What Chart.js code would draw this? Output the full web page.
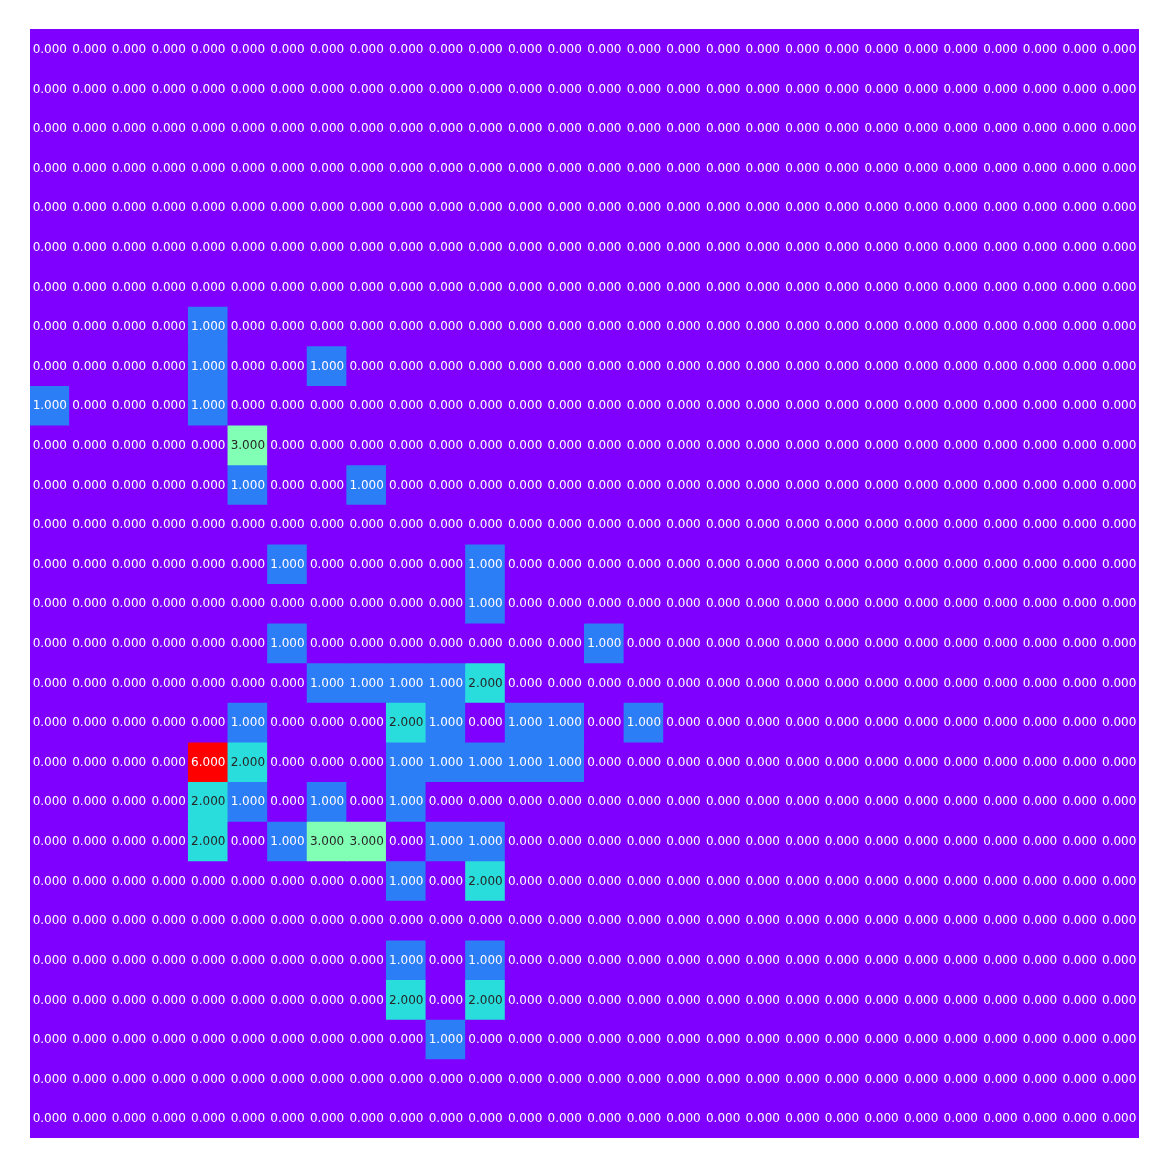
<!DOCTYPE html>
<html>
<head>
<meta charset="utf-8">
<script src="https://cdn.jsdelivr.net/npm/chart.js@4.4.1/dist/chart.umd.min.js"></script>
<style>
  html, body { margin: 0; padding: 0; background: #ffffff; }
  #wrap { width: 1168px; height: 1168px; }
</style>
</head>
<body>
<div id="wrap"><canvas id="c" width="1168" height="1168"></canvas></div>
<script>
// Column and row categories (28 x 28 grid)
const columnLabels = Array.from({length: 28}, (_, i) => String(i));
const rowLabels = Array.from({length: 28}, (_, i) => String(i));

// Cell values, one row per line (top row first)
const cellValues = [
  [0,0,0,0,0,0,0,0,0,0,0,0,0,0,0,0,0,0,0,0,0,0,0,0,0,0,0,0],
  [0,0,0,0,0,0,0,0,0,0,0,0,0,0,0,0,0,0,0,0,0,0,0,0,0,0,0,0],
  [0,0,0,0,0,0,0,0,0,0,0,0,0,0,0,0,0,0,0,0,0,0,0,0,0,0,0,0],
  [0,0,0,0,0,0,0,0,0,0,0,0,0,0,0,0,0,0,0,0,0,0,0,0,0,0,0,0],
  [0,0,0,0,0,0,0,0,0,0,0,0,0,0,0,0,0,0,0,0,0,0,0,0,0,0,0,0],
  [0,0,0,0,0,0,0,0,0,0,0,0,0,0,0,0,0,0,0,0,0,0,0,0,0,0,0,0],
  [0,0,0,0,0,0,0,0,0,0,0,0,0,0,0,0,0,0,0,0,0,0,0,0,0,0,0,0],
  [0,0,0,0,1,0,0,0,0,0,0,0,0,0,0,0,0,0,0,0,0,0,0,0,0,0,0,0],
  [0,0,0,0,1,0,0,1,0,0,0,0,0,0,0,0,0,0,0,0,0,0,0,0,0,0,0,0],
  [1,0,0,0,1,0,0,0,0,0,0,0,0,0,0,0,0,0,0,0,0,0,0,0,0,0,0,0],
  [0,0,0,0,0,3,0,0,0,0,0,0,0,0,0,0,0,0,0,0,0,0,0,0,0,0,0,0],
  [0,0,0,0,0,1,0,0,1,0,0,0,0,0,0,0,0,0,0,0,0,0,0,0,0,0,0,0],
  [0,0,0,0,0,0,0,0,0,0,0,0,0,0,0,0,0,0,0,0,0,0,0,0,0,0,0,0],
  [0,0,0,0,0,0,1,0,0,0,0,1,0,0,0,0,0,0,0,0,0,0,0,0,0,0,0,0],
  [0,0,0,0,0,0,0,0,0,0,0,1,0,0,0,0,0,0,0,0,0,0,0,0,0,0,0,0],
  [0,0,0,0,0,0,1,0,0,0,0,0,0,0,1,0,0,0,0,0,0,0,0,0,0,0,0,0],
  [0,0,0,0,0,0,0,1,1,1,1,2,0,0,0,0,0,0,0,0,0,0,0,0,0,0,0,0],
  [0,0,0,0,0,1,0,0,0,2,1,0,1,1,0,1,0,0,0,0,0,0,0,0,0,0,0,0],
  [0,0,0,0,6,2,0,0,0,1,1,1,1,1,0,0,0,0,0,0,0,0,0,0,0,0,0,0],
  [0,0,0,0,2,1,0,1,0,1,0,0,0,0,0,0,0,0,0,0,0,0,0,0,0,0,0,0],
  [0,0,0,0,2,0,1,3,3,0,1,1,0,0,0,0,0,0,0,0,0,0,0,0,0,0,0,0],
  [0,0,0,0,0,0,0,0,0,1,0,2,0,0,0,0,0,0,0,0,0,0,0,0,0,0,0,0],
  [0,0,0,0,0,0,0,0,0,0,0,0,0,0,0,0,0,0,0,0,0,0,0,0,0,0,0,0],
  [0,0,0,0,0,0,0,0,0,1,0,1,0,0,0,0,0,0,0,0,0,0,0,0,0,0,0,0],
  [0,0,0,0,0,0,0,0,0,2,0,2,0,0,0,0,0,0,0,0,0,0,0,0,0,0,0,0],
  [0,0,0,0,0,0,0,0,0,0,1,0,0,0,0,0,0,0,0,0,0,0,0,0,0,0,0,0],
  [0,0,0,0,0,0,0,0,0,0,0,0,0,0,0,0,0,0,0,0,0,0,0,0,0,0,0,0],
  [0,0,0,0,0,0,0,0,0,0,0,0,0,0,0,0,0,0,0,0,0,0,0,0,0,0,0,0]
];

const vmin = 0, vmax = 6;

// matplotlib "rainbow" colormap (256-entry LUT)
function rainbowRGB(v) {
  let t = (v - vmin) / (vmax - vmin);
  t = Math.max(0, Math.min(1, t));
  let idx = Math.min(255, Math.floor(t * 256));
  const x = idx / 255;
  const r = Math.min(1, Math.abs(2 * x - 0.5));
  const g = Math.sin(Math.PI * x);
  const b = Math.cos(Math.PI * x / 2);
  return [Math.round(r * 255), Math.round(g * 255), Math.round(Math.max(0, b) * 255)];
}
function rainbow(v) {
  const [r, g, b] = rainbowRGB(v);
  return `rgb(${r},${g},${b})`;
}
function textColorFor(v) {
  const c = rainbowRGB(v).map(u => {
    u /= 255;
    return u <= 0.03928 ? u / 12.92 : Math.pow((u + 0.055) / 1.055, 2.4);
  });
  const lum = 0.2126 * c[0] + 0.7152 * c[1] + 0.0722 * c[2];
  return lum > 0.408 ? '#262626' : '#ffffff';
}

const datasets = rowLabels.map((rl, r) => ({
  label: rl,
  data: columnLabels.map(() => 1),
  cellVals: cellValues[r],
  backgroundColor: cellValues[r].map(v => rainbow(v)),
  borderWidth: 0,
  barPercentage: 1.0,
  categoryPercentage: 1.0,
  inflateAmount: 0.5
}));

const annotatePlugin = {
  id: 'annotate',
  afterDatasetsDraw(chart) {
    const ctx = chart.ctx;
    ctx.save();
    ctx.font = '12px "DejaVu Sans"';
    ctx.textAlign = 'center';
    ctx.textBaseline = 'middle';
    chart.data.datasets.forEach((ds, di) => {
      const meta = chart.getDatasetMeta(di);
      meta.data.forEach((el, i) => {
        const v = ds.cellVals[i];
        const props = el.getProps(['x', 'y', 'base'], true);
        ctx.fillStyle = textColorFor(v);
        ctx.fillText(v.toFixed(3), props.x, (props.y + props.base) / 2 + 1);
      });
    });
    ctx.restore();
  }
};

new Chart(document.getElementById('c'), {
  type: 'bar',
  data: { labels: columnLabels, datasets },
  options: {
    responsive: false,
    animation: false,
    layout: { padding: { left: 30, top: 29, right: 29, bottom: 30 } },
    plugins: { legend: { display: false }, tooltip: { enabled: false } },
    scales: {
      x: { stacked: true, display: false, offset: true, grid: { display: false } },
      y: { stacked: true, display: false, reverse: true, min: 0, max: 28, grid: { display: false } }
    }
  },
  plugins: [annotatePlugin]
});
</script>
</body>
</html>
